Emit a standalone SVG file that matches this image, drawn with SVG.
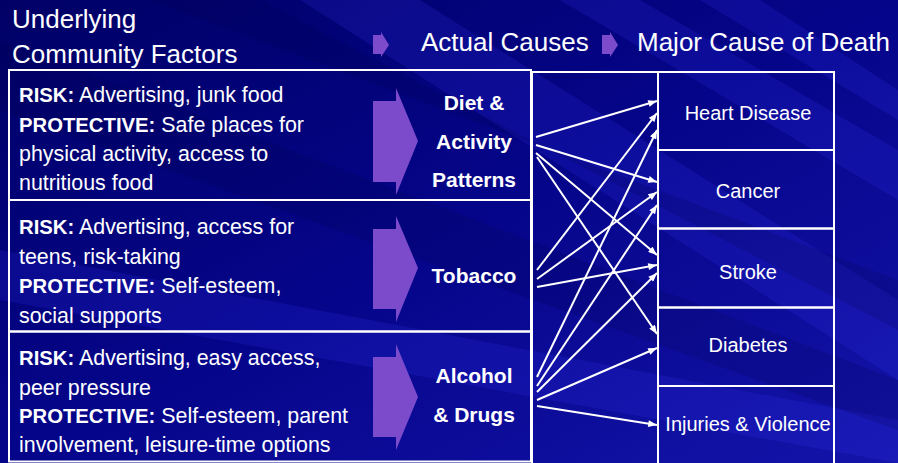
<svg xmlns="http://www.w3.org/2000/svg" width="898" height="463" viewBox="0 0 898 463">
<defs>
<linearGradient id="bg" x1="0" y1="0" x2="1" y2="1">
<stop offset="0" stop-color="#000066"/>
<stop offset="0.5" stop-color="#05058a"/>
<stop offset="1" stop-color="#1414aa"/>
</linearGradient>
<marker id="ah" viewBox="0 0 10 8" refX="10" refY="4" markerWidth="10" markerHeight="7" markerUnits="userSpaceOnUse" orient="auto">
<path d="M0,0 L10,4 L0,8 z" fill="#ffffff"/>
</marker>
<style>
.box{fill:none;stroke:#ffffff;stroke-width:2}
.t{font-family:"Liberation Sans",Arial,sans-serif;fill:#ffffff}
.hd{font-size:26px}
.lt{font-size:21.4px}
.lt .b{font-weight:bold;font-size:20.3px}
.mid{font-size:21px;font-weight:bold;text-anchor:middle}
.rt{font-size:20px;text-anchor:middle}
.pa{fill:#7b4bcc}
.con line{stroke:#ffffff;stroke-width:2;marker-end:url(#ah)}
</style>
</defs>
<rect width="898" height="463" fill="url(#bg)"/>
<g opacity="0.16" fill="#3a3aff">
<polygon points="300,0 420,0 898,300 898,380"/>
<polygon points="560,0 640,0 898,150 898,200"/>
<polygon points="0,250 0,300 898,463 898,420"/>
<polygon points="700,0 760,0 898,90 898,120"/>
</g>
<g opacity="0.15" fill="#000040">
<polygon points="0,40 0,110 898,430 898,380"/>
<polygon points="150,0 260,0 898,330 898,280"/>
</g>
<g id="headers">
<text class="t hd" x="12" y="28">Underlying</text>
<text class="t hd" x="12" y="63">Community Factors</text>
<polygon class="pa" points="373,35 381,35 381,32 389,45 381,57 381,54 373,54"/>
<text class="t hd" x="421" y="51">Actual Causes</text>
<polygon class="pa" points="602,35 610,35 610,32 618,45 610,57 610,54 602,54"/>
<text class="t hd" x="637" y="51">Major Cause of Death</text>
</g>
<g id="diet">
<rect class="box" x="9" y="70" width="522" height="130"/>
<text class="t lt" x="19" y="102"><tspan class="b">RISK:</tspan> Advertising, junk food</text>
<text class="t lt" x="19" y="132"><tspan class="b">PROTECTIVE:</tspan> Safe places for</text>
<text class="t lt" x="19" y="161">physical activity, access to</text>
<text class="t lt" x="19" y="190">nutritious food</text>
<polygon class="pa" points="373,101 396,101 396,88 418,141 396,195 396,182 373,182"/>
<text class="t mid" x="474" y="110">Diet &amp;</text>
<text class="t mid" x="474" y="149">Activity</text>
<text class="t mid" x="474" y="187">Patterns</text>
</g>
<g id="tobacco">
<rect class="box" x="9" y="200" width="522" height="131.5"/>
<text class="t lt" x="19" y="234"><tspan class="b">RISK:</tspan> Advertising, access for</text>
<text class="t lt" x="19" y="263.5">teens, risk-taking</text>
<text class="t lt" x="19" y="293"><tspan class="b">PROTECTIVE:</tspan> Self-esteem,</text>
<text class="t lt" x="19" y="323">social supports</text>
<polygon class="pa" points="373,229 396,229 396,216 418,268 396,322 396,309 373,309"/>
<text class="t mid" x="474" y="283">Tobacco</text>
</g>
<g id="alcohol">
<rect class="box" x="9" y="331.5" width="522" height="130"/>
<text class="t lt" x="19" y="365"><tspan class="b">RISK:</tspan> Advertising, easy access,</text>
<text class="t lt" x="19" y="394.5">peer pressure</text>
<text class="t lt" x="19" y="423"><tspan class="b">PROTECTIVE:</tspan> Self-esteem, parent</text>
<text class="t lt" x="19" y="451.5">involvement, leisure-time options</text>
<polygon class="pa" points="373,357 396,357 396,344 418,397 396,450 396,437 373,437"/>
<text class="t mid" x="474" y="383">Alcohol</text>
<text class="t mid" x="474" y="421.5">&amp; Drugs</text>
</g>
<g id="links-frame">
<rect class="box" x="532" y="72" width="126" height="400"/>
</g>
<g id="heart">
<rect class="box" x="658" y="72" width="176" height="78"/>
<text class="t rt" x="748" y="120">Heart Disease</text>
</g>
<g id="cancer">
<rect class="box" x="658" y="150" width="176" height="78.5"/>
<text class="t rt" x="748" y="198">Cancer</text>
</g>
<g id="stroke">
<rect class="box" x="658" y="228.5" width="176" height="79"/>
<text class="t rt" x="748" y="279">Stroke</text>
</g>
<g id="diabetes">
<rect class="box" x="658" y="307.5" width="176" height="78.5"/>
<text class="t rt" x="748" y="352">Diabetes</text>
</g>
<g id="injuries">
<rect class="box" x="658" y="386" width="176" height="86"/>
<text class="t rt" x="748" y="430.5">Injuries &amp; Violence</text>
</g>
<g id="connectors" class="con">
<line x1="536" y1="137" x2="657" y2="101"/>
<line x1="536" y1="145" x2="657" y2="182"/>
<line x1="536" y1="153" x2="657" y2="255"/>
<line x1="537" y1="157" x2="657" y2="334"/>
<line x1="537" y1="270" x2="657" y2="113"/>
<line x1="537" y1="279" x2="657" y2="192"/>
<line x1="537" y1="287" x2="657" y2="265"/>
<line x1="537" y1="377" x2="657" y2="130"/>
<line x1="537" y1="386" x2="657" y2="205"/>
<line x1="537" y1="392" x2="657" y2="273"/>
<line x1="537" y1="400" x2="657" y2="348"/>
<line x1="537" y1="406" x2="657" y2="425"/>
</g>
</svg>
